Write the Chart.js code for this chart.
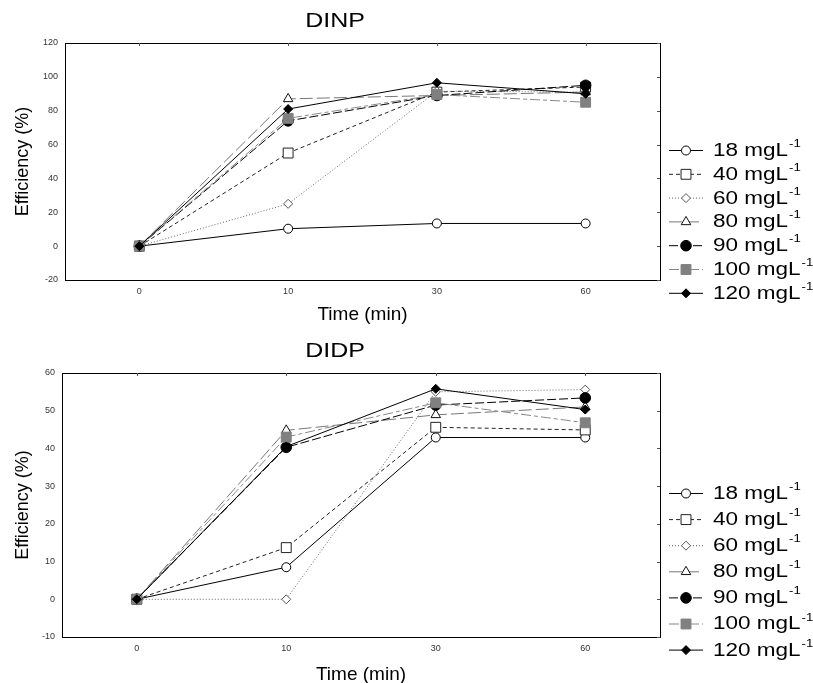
<!DOCTYPE html>
<html>
<head>
<meta charset="utf-8">
<script src="https://cdn.jsdelivr.net/npm/chart.js@4.4.1/dist/chart.umd.min.js"></script>
<style>
  html, body { margin: 0; padding: 0; background: #fff; overflow: hidden; }
  body { width: 813px; height: 683px; position: relative; }
  canvas { position: absolute; left: 0; }
  #dinpChart { top: 0; }
  #didpChart { top: 330px; }
</style>
</head>
<body>
<canvas id="dinpChart" width="813" height="330"></canvas>
<canvas id="didpChart" width="813" height="360"></canvas>
<script>
// Data
const times = ['0', '10', '30', '60'];
const concentrations = [18, 40, 60, 80, 90, 100, 120];

const dinp18 = [0, 10.3, 13.4, 13.4];
const dinp40 = [0, 55, 91, 94];
const dinp60 = [0, 25, 91.5, 91];
const dinp80 = [0, 87, 89, 91];
const dinp90 = [0, 74, 89, 95];
const dinp100 = [0, 75.5, 89.5, 85];
const dinp120 = [0, 81, 96.5, 90];

const didp18 = [0, 8.5, 42.9, 42.9];
const didp40 = [0, 13.7, 45.6, 44.9];
const didp60 = [0, 0, 55, 55.6];
const didp80 = [0, 44.8, 48.9, 51];
const didp90 = [0, 40.3, 51.5, 53.4];
const didp100 = [0, 43, 52.1, 46.8];
const didp120 = [0, 40.5, 55.8, 50.3];

const dinpTicks = [-20, 0, 20, 40, 60, 80, 100, 120];
const didpTicks = [-10, 0, 10, 20, 30, 40, 50, 60];

// Series styles
const styles = [
  { line: '#000', dash: [], point: 'circle', r: 4.5, fill: '#fff', stroke: '#000' },
  { line: '#222', dash: [4, 3], point: 'rect', r: 7, fill: '#fff', stroke: '#222' },
  { line: '#666', dash: [1, 2], point: 'rectRot', r: 4.5, fill: '#fff', stroke: '#555' },
  { line: '#777', dash: [13, 4], point: 'triangle', r: 5.5, fill: '#fff', stroke: '#111' },
  { line: '#000', dash: [9, 3], point: 'circle', r: 5.3, fill: '#000', stroke: '#000' },
  { line: '#888', dash: [10, 3, 4, 3], point: 'rect', r: 7, fill: '#808080', stroke: '#808080' },
  { line: '#000', dash: [], point: 'rectRot', r: 4.5, fill: '#000', stroke: '#000' }
];

const FONT = '"Liberation Sans", Arial, sans-serif';

function buildDatasets(series) {
  return series.map((values, i) => ({
    label: concentrations[i] + ' mgL-1',
    data: values,
    borderColor: styles[i].line,
    borderWidth: 1,
    borderDash: styles[i].dash,
    pointStyle: styles[i].point,
    pointRadius: styles[i].r,
    pointBackgroundColor: styles[i].fill,
    pointBorderColor: styles[i].stroke,
    pointBorderWidth: 1,
    tension: 0,
    fill: false,
    order: series.length - i
  }));
}

function stretchedText(ctx, text, x, y, sx) {
  ctx.save();
  ctx.translate(x, y);
  ctx.scale(sx, 1);
  ctx.fillText(text, 0, 0);
  const w = ctx.measureText(text).width * sx;
  ctx.restore();
  return w;
}

// frame, inner ticks, title and legend
function decorPlugin(title, titleX, legendY, legendStep) {
  return {
    id: 'decor',
    afterDraw(chart) {
      const ctx = chart.ctx;
      const a = chart.chartArea;
      const xs = chart.scales.x;
      const ys = chart.scales.y;
      ctx.save();
      ctx.setLineDash([]);
      ctx.strokeStyle = '#000';
      ctx.lineWidth = 1;
      ctx.strokeRect(Math.round(a.left) + 0.5, Math.round(a.top) + 0.5,
        Math.round(a.right - a.left), Math.round(a.bottom - a.top));
      ctx.strokeStyle = '#555';
      ctx.beginPath();
      xs.ticks.forEach((t, i) => {
        const px = Math.round(xs.getPixelForTick(i)) + 0.5;
        ctx.moveTo(px, a.top);
        ctx.lineTo(px, a.top + 3);
      });
      ys.ticks.forEach((t, i) => {
        const py = Math.round(ys.getPixelForTick(i)) + 0.5;
        ctx.moveTo(a.right, py);
        ctx.lineTo(a.right - 3, py);
      });
      ctx.stroke();

      ctx.fillStyle = '#000';
      ctx.textAlign = 'center';
      ctx.textBaseline = 'middle';
      ctx.font = '20px ' + FONT;
      stretchedText(ctx, title, titleX, 21, 1.25);

      chart.data.datasets.forEach((ds, i) => {
        const y = legendY + i * legendStep;
        ctx.save();
        ctx.strokeStyle = ds.borderColor;
        ctx.lineWidth = 1;
        ctx.setLineDash(ds.borderDash);
        ctx.beginPath();
        ctx.moveTo(669, y + 0.5);
        ctx.lineTo(703, y + 0.5);
        ctx.stroke();
        ctx.setLineDash([]);
        ctx.fillStyle = ds.pointBackgroundColor;
        ctx.strokeStyle = ds.pointBorderColor;
        Chart.helpers.drawPoint(ctx, {
          pointStyle: ds.pointStyle, radius: ds.pointRadius, rotation: 0, borderWidth: 1
        }, 686, y + 0.5);
        ctx.restore();

        ctx.fillStyle = '#000';
        ctx.textAlign = 'left';
        ctx.textBaseline = 'middle';
        ctx.font = '18px ' + FONT;
        const w = stretchedText(ctx, concentrations[i] + ' mgL', 713, y + 1, 1.25);
        ctx.font = '11px ' + FONT;
        stretchedText(ctx, '-1', 713 + w + 1, y - 6, 1.2);
      });
      ctx.restore();
    }
  };
}

function makeChart(id, series, ticks, opts) {
  return new Chart(document.getElementById(id), {
    type: 'line',
    data: { labels: times, datasets: buildDatasets(series) },
    options: {
      responsive: false,
      animation: false,
      events: [],
      layout: { padding: { top: opts.top, right: opts.right, left: 0, bottom: 0 } },
      plugins: { legend: { display: false }, tooltip: { enabled: false } },
      scales: {
        x: {
          type: 'category',
          offset: true,
          grid: { display: false, drawTicks: false },
          border: { display: false },
          ticks: { padding: 6, color: '#333', font: { family: FONT, size: 9 } },
          title: {
            display: true, text: 'Time (min)', color: '#000',
            font: { family: FONT, size: 19 }, padding: { top: 0, bottom: 4 }
          },
          afterFit: s => { s.height = opts.xHeight; }
        },
        y: {
          min: ticks[0],
          max: ticks[ticks.length - 1],
          grid: { display: false, drawTicks: false },
          border: { display: false },
          afterBuildTicks: s => { s.ticks = ticks.map(v => ({ value: v })); },
          ticks: { padding: 7, color: '#333', font: { family: FONT, size: 9 } },
          title: {
            display: true, text: 'Efficiency (%)', color: '#000',
            font: { family: FONT, size: 18 }, padding: { top: 12, bottom: 0 }
          },
          afterFit: s => { s.width = opts.yWidth; }
        }
      }
    },
    plugins: [decorPlugin(opts.title, 335, opts.legendY, opts.legendStep)]
  });
}

makeChart('dinpChart',
  [dinp18, dinp40, dinp60, dinp80, dinp90, dinp100, dinp120], dinpTicks,
  { title: 'DINP', top: 43, right: 153, xHeight: 50, yWidth: 65, legendY: 150, legendStep: 23.8 });

makeChart('didpChart',
  [didp18, didp40, didp60, didp80, didp90, didp100, didp120], didpTicks,
  { title: 'DIDP', top: 43, right: 153, xHeight: 53, yWidth: 62, legendY: 163, legendStep: 26.1 });
</script>
</body>
</html>
